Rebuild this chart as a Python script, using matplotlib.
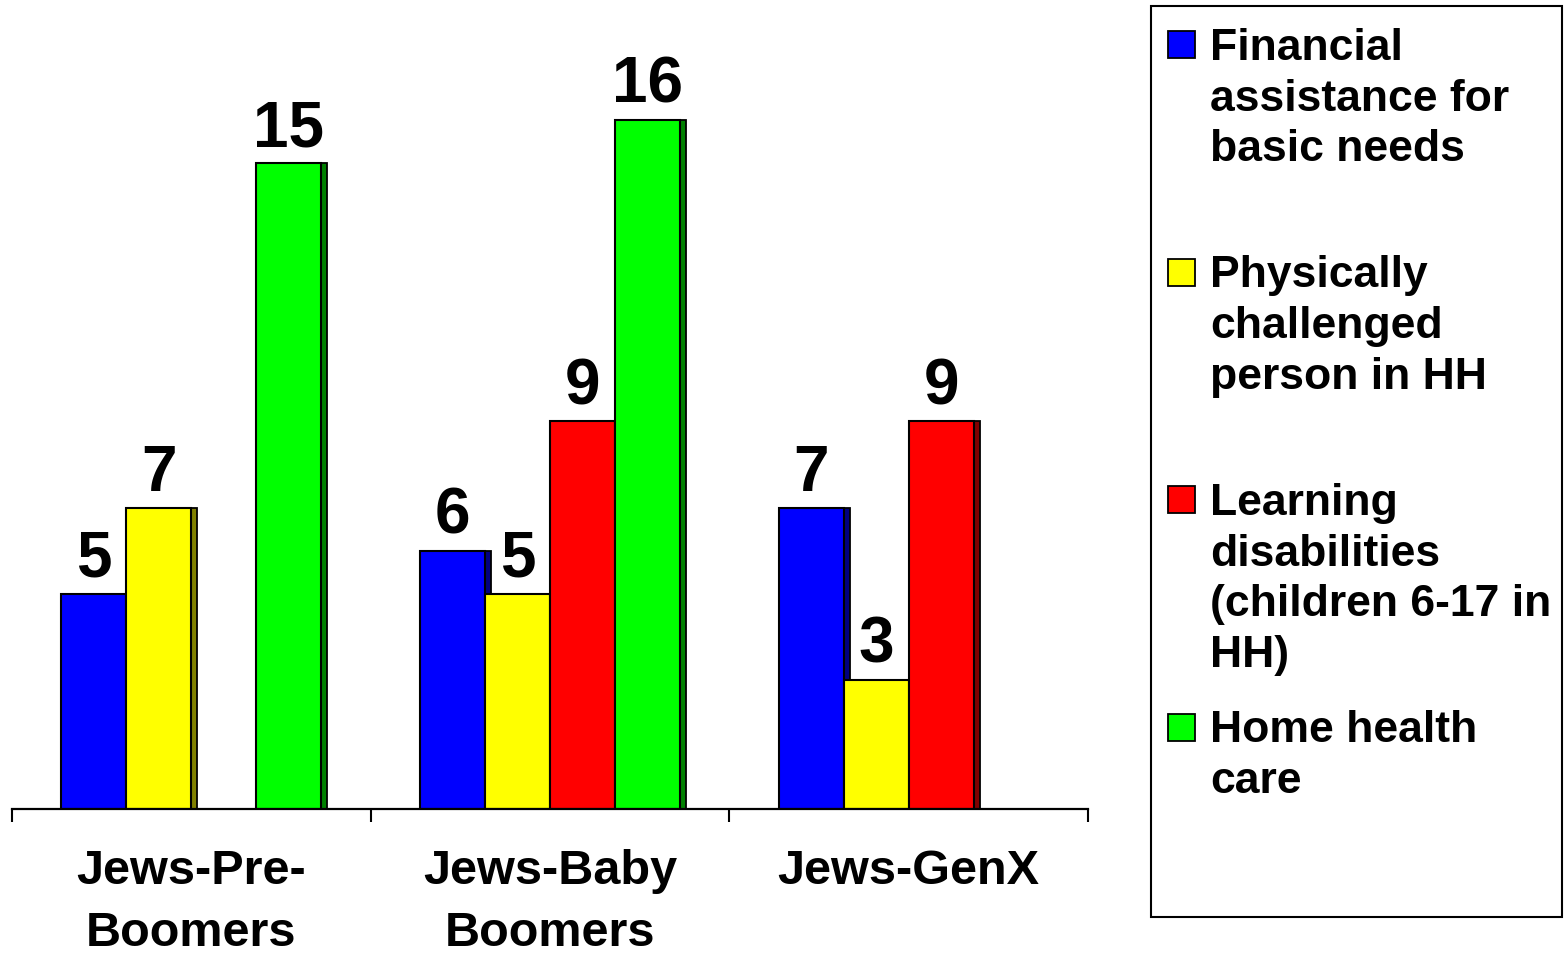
import numpy as np
import matplotlib.pyplot as plt
from matplotlib.patches import Rectangle

plt.rcParams['font.family'] = ['Liberation Sans', 'DejaVu Sans']
plt.rcParams['font.weight'] = 'bold'

categories = ["Jews-Pre-\nBoomers", "Jews-Baby\nBoomers", "Jews-GenX"]
series_names = ["Financial\nassistance for\nbasic needs",
                "Physically\nchallenged\nperson in HH",
                "Learning\ndisabilities\n(children 6-17 in\nHH)",
                "Home health\ncare"]
financial = [5, 6, 7]
physical = [7, 5, 3]
learning = [np.nan, 9, 9]
home = [15, 16, np.nan]

values = [financial, physical, learning, home]
colors = ["#0000ff", "#ffff00", "#ff0000", "#00ff00"]
shades = ["#000080", "#808000", "#800000", "#008000"]

W, H = 1564, 954
fig = plt.figure(figsize=(W/100, H/100), dpi=100)
ax = fig.add_axes([12/W, (H-810)/H, (1088-12)/W, 810/H])

x = np.arange(len(categories))
bw = 0.181
off = 6/358.7

for k, vals in enumerate(values):
    v = np.array(vals, dtype=float)
    xs = x + (k - 1.5)*bw
    ok = ~np.isnan(v)
    ax.bar(xs[ok] + off, v[ok], bw, color=shades[k], edgecolor='black', linewidth=1.3, zorder=1)
    ax.bar(xs[ok], v[ok], bw, color=colors[k], edgecolor='black', linewidth=1.5, zorder=2)
    for xi, vi in zip(xs[ok], v[ok]):
        ax.annotate(f"{vi:.0f}", (xi, vi), xytext=(0, 13), textcoords='offset points',
                    ha='center', va='baseline', fontsize=46, fontweight='bold')

ax.set_xlim(-0.5, 2.5)
ax.set_ylim(0, 18.81)
for s in ['top', 'right', 'left']:
    ax.spines[s].set_visible(False)
ax.spines['bottom'].set_linewidth(1.6)
ax.set_yticks([])
ax.set_xticks([-0.5, 0.5, 1.5, 2.5])
ax.set_xticklabels([])
ax.tick_params(axis='x', which='major', direction='out', length=9, width=1.5)
ax.set_xticks(x, minor=True)
ax.set_xticklabels(categories, minor=True, fontsize=35, fontweight='bold', linespacing=1.5)
ax.tick_params(axis='x', which='minor', length=0, pad=28)

# legend box drawn like the original slot layout
fig.patches.append(Rectangle((1151/W, (H-918)/H), (1562-1151)/W, (918-7)/H,
                             transform=fig.transFigure, facecolor='white',
                             edgecolor='black', linewidth=1.5))
for k, name in enumerate(series_names):
    base = 61 + k*227.5
    fig.patches.append(Rectangle((1168/W, (H-base+2)/H), 27/W, 27/H,
                                 transform=fig.transFigure, facecolor=colors[k],
                                 edgecolor='black', linewidth=1.3))
    fig.text(1210/W, (H-base+33)/H, name, ha='left', va='top', fontsize=32,
             fontweight='bold', linespacing=1.3)

fig.savefig("out.png", dpi=100)
